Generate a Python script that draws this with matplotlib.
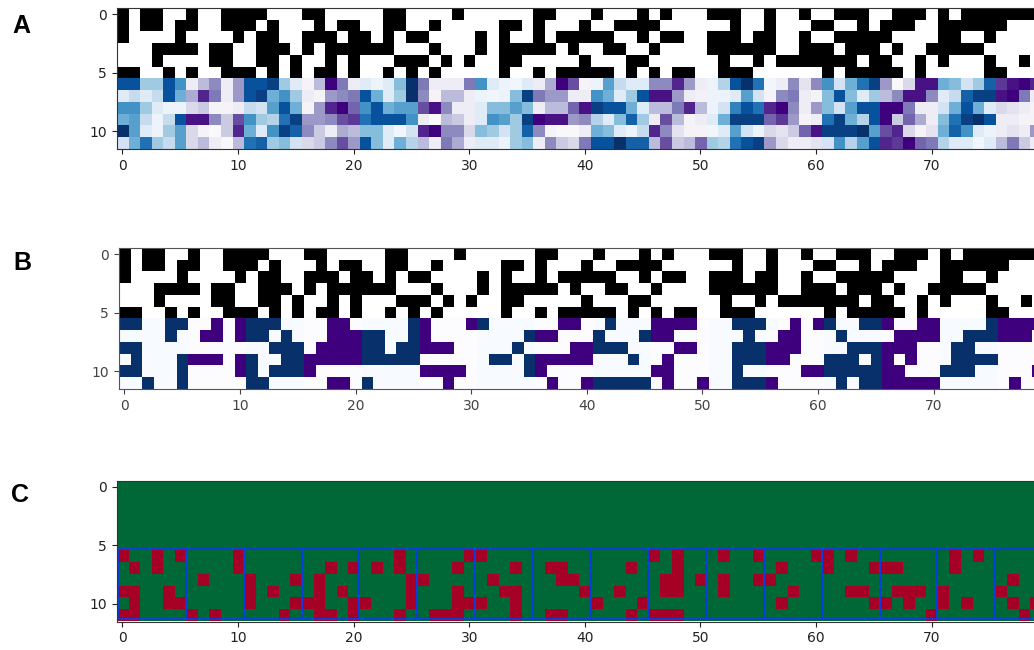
import numpy as np
import matplotlib
matplotlib.use("Agg")
import matplotlib.pyplot as plt
from matplotlib.colors import LinearSegmentedColormap, ListedColormap
from matplotlib.patches import Rectangle

# --- data -------------------------------------------------------------
binary_rows = [
    "101100100111100011000001100" "00100000011000100010100011" "100100100111" "00111" "0" "1" "0" "1111111",
    "101101100111010001011001100" "10000011010001001111000000" "1" "00" "1" "000" "11" "00" "1" "0" "111" "00" "111111" "000",
    "100001000010110011101101011" "00001" "0" "1" "00" "1" "0" "11111" "00" "1" "0" "11" "00" "11" "1" "0" "11" "00" "1" "00" "11111" "0000" "11" "00" "1" "0000",
    "000111101100111010111111000" "1" "000" "1" "0" "11111" "0" "1" "00" "11" "00" "1" "0000" "11" "1111" "00" "111" "0" "111" "0" "1" "00" "11111" "00000",
    "000100001100110100101000111" "0" "1" "0" "1" "00" "11" "00000" "1" "000" "11" "000000" "1" "00" "1" "0" "1111111" "0" "11" "00" "1" "0" "1" "000" "1" "00" "1" "0",
    "110010100111010101101001010" "1" "00000" "1" "00" "1" "0" "11111" "0" "1" "0" "1" "0" "11" "00" "1" "11" "000000" "1" "0" "11111" "0" "1" "00000" "11" "000",
]

# shades in eighths: negative = blue side, positive = purple side
shade_rows = [
    [-7,-7,-3,-3,-7,-5,1,3,4.5,1,4,-7,-7,-7.5,-3,-1,0.5,3,8,5,1,-1,-0.5,-1,-3.5,-8,5,
     1,1,1,5,-5,-1,-0.5,-0.3,-1,1,3.5,8,6,0.5,-0.5,-4.5,-2,-1,-1,4.5,4.5,7,4,1,-0.5,-2.5,-7,
     -8,-6,-0.3,1,4.5,1.5,4.5,-5,-1.5,-4,-6,-7.5,4,0.3,2,7.5,7.5,-4,-3.5,-1.5,-3,-6.5,6.5,7.5,8,7],
    [-1,-2,-1,-2,-7,-4,3.5,7,5,1,4,-7,-7.5,-4,-5,-3,1,0.5,4,4.5,5,-7,-4,-1,-3,-8,4.5,
     0.5,3,3,1,-0.5,-0.3,-0.5,-3.5,-7.5,5,4,4,1,1,-5,-4,-1,-3,-7,7.5,7.5,4,1,0.7,-0.5,-0.5,-1,
     -4.5,-1.5,0.5,4.5,5,1,0.5,-3.5,-7,-3.5,-1,-3,3,4.5,7.5,7.5,4.5,-1,-2,-6.5,-7.5,-7.5,7.5,8,5,1],
    [-5,-5,-3,-1,-0.5,-0.5,2,2.5,0.5,0.5,1,-2,-1.5,-4.5,-7,-4,0.5,4,7,8,5.5,-5,-7,-4,-4.5,-4.5,6,
     7.5,4.5,1,1,-1,-3.5,-3.5,-4.5,-3.5,1,3,3,5.5,7.5,-7.5,-7,-7,-4,-1,3,3,5,7,3,-0.5,-1.5,-5.5,
     -7,-6,7,8,4.5,1,4,-3.5,-1.5,-4.5,-7,-7,8,8,5,1,1,-1.5,-4,-7,-4,-1,2,1.5,1,0.5],
    [-4,-4.5,-2,-0.5,-2,-7,7.5,7.5,4.5,2.5,6,-5,-3,-2.5,-6,-7.5,4,4,4.5,6,6.5,-6,-7,-7,-7,-5,1,
     0.2,3,2.5,1,-1,-5,-4.5,-3,-7.5,8,7.5,7.5,4,4.5,-2.5,-1,-3.5,-6.5,-3,1,6,3,0.5,1,-1,-4,-7.5,
     -7.5,-7.5,5.5,6.5,4,0.5,1,-6,-7.5,-4,-2.5,-7,8,2.5,5.5,3.5,1,-3.5,-6,-7.5,-8,-7,1,1,0.5,0.5],
    [-8,-4.5,-1,-0.5,-3,-4.5,2,0.5,0.2,2.5,7,-4,-1,-5,-7.5,-6.5,4.5,2.5,1,3.5,3,-3.5,-3.5,-1,-0.3,-1.5,7,
     8,4.5,4.5,2,-3.5,-3,-1.5,-3,-6.5,4.5,0.5,0.3,0.3,1,-4,-3.5,-1,-0.5,-2,7,4.5,1.5,0.5,0.5,-0.3,-1,-4.5,
     -1.5,-0.5,2,1.5,2.5,5.5,7.5,-7.5,-7.5,-7.5,-8,-4.5,6,7,2,0.5,1.5,-4,-6.5,-5,-1,-0.5,1,1.5,1,4],
    [-1.5,-4,-6,-3,-2,-4.5,2,3,1,0.3,3,-6,-6.5,-3,-3.5,-1.5,2,2.5,4.5,6,4,-7,-3.5,-1,-4,-2.5,3,
     1,5,3.5,1,-1,-1,-0.5,-3,-3.5,1,4.5,2.5,2,5,-7,-7,-8,-6.5,-6.5,3,6,2.5,3,5.5,-3,-2.5,-6,
     -7,-7.5,4,2,1,1,1.5,-1.5,-5,-2.5,-4.5,-7,7,6.5,8,5.5,5,-2.5,-1,-1,-0.3,-1,3,5,2.5,1],
]

blue_cols = [
    [0,1,4,5,11,12,13,25,31,42,53,54,55,61,64,65,75],
    [4,11,12,14,21,22,25,35,41,45,54,62,73,74,75],
    [0,1,13,14,15,21,22,24,25,34,41,42,43,53,54,55,63,64,65,72,73],
    [1,5,11,14,15,21,22,23,24,25,32,33,35,44,53,54,55,61,62,63,65,72,73,74,75],
    [0,1,5,11,13,14,15,35,53,61,62,63,64,65,71,72,73],
    [2,5,11,12,21,41,42,43,44,45,53,54,55,62,64,65],
]
purple_cols = [
    [8,10,18,19,26,30,38,39,46,47,48,49,58,60,66,69,70,76,77,78,79],
    [7,8,10,18,19,20,26,36,37,46,47,57,58,67,68,69,70,76,77,78],
    [17,18,19,20,26,27,28,39,40,48,49,56,57,58,66,67,68],
    [6,7,8,10,16,17,18,19,20,36,37,38,39,40,47,56,57,66,68],
    [10,16,26,27,28,29,36,46,47,59,60,66,67,79],
    [18,19,28,37,40,47,50,56,66,67,68,69,70,77],
]
red_cols = [
    [0,3,5,10,24,30,31,46,48,52,55,60,61,63,72,74],
    [1,3,10,18,20,22,24,29,34,37,38,44,48,57,61,65,66,67,72],
    [7,11,15,17,25,26,32,38,39,47,48,50,52,55,56,77],
    [0,1,4,11,13,17,19,25,29,33,34,40,43,47,48,52,58,63,64,67,68,69,71,76],
    [1,4,5,11,15,16,17,20,21,25,29,30,31,34,41,45,57,65,66,68,71,73,77,79],
    [0,1,6,8,14,17,18,20,24,27,28,29,34,37,38,44,46,47,48,70,78],
]
tick_x = [0, 10, 20, 30, 40, 50, 60, 70]
tick_y = [0, 5, 10]
panel_labels = ["A", "B", "C"]
block_edges = list(range(5, 80, 5))

# --- matrices ----------------------------------------------------------
top = np.array([[int(ch) for ch in r] for r in binary_rows], dtype=float)
shades = np.array(shade_rows, dtype=float)
thresholded = np.sign(shades) * 0.02
for r in range(6):
    thresholded[r, blue_cols[r]] = -8
    thresholded[r, purple_cols[r]] = 8
green_red = np.zeros((12, 80))
for r in range(6):
    green_red[r + 6, red_cols[r]] = 1

# --- colours -----------------------------------------------------------
blue_purple = LinearSegmentedColormap.from_list(
    "blue_purple",
    np.vstack([plt.get_cmap("Blues_r")(np.linspace(0, 1, 128)),
               plt.get_cmap("Purples")(np.linspace(0, 1, 128))]), N=256)
black_white = ListedColormap(["#ffffff", "#000000"])
rdgn = ListedColormap(["#006837", "#a50026"])

W, H = 1034, 650
fig = plt.figure(figsize=(W / 100, H / 100), dpi=100, facecolor="white")
plt.rcParams["font.size"] = 10

def make_axes(left, top_px, bottom_px, ink="#222222", spine="#333333"):
    ax = fig.add_axes([left / W, 1 - bottom_px / H, 80 * 11.56 / W, (bottom_px - top_px) / H])
    ax.set_xlim(-0.5, 79.5)
    ax.set_ylim(11.5, -0.5)
    ax.set_xticks(tick_x)
    ax.set_yticks(tick_y)
    ax.tick_params(labelsize=10, colors=ink)
    for s in ax.spines.values():
        s.set_color(spine)
    return ax

def draw_two_part(ax, lower):
    ext = (-0.5, 79.5, 11.5, -0.5)
    kw = dict(aspect="auto", interpolation="nearest", extent=ext)
    ax.imshow(np.ma.masked_where(np.arange(12)[:, None].repeat(80, 1) >= 6,
                                 np.vstack([top, np.zeros((6, 80))])),
              cmap=black_white, vmin=0, vmax=1, **kw)
    ax.imshow(np.ma.masked_where(np.arange(12)[:, None].repeat(80, 1) < 6,
                                 np.vstack([np.zeros((6, 80)), lower])),
              cmap=blue_purple, vmin=-8, vmax=8, **kw)

ax_a = make_axes(116.7, 8.4, 149)
draw_two_part(ax_a, shades)

ax_b = make_axes(118.7, 248.4, 389, ink="#444444", spine="#555555")
draw_two_part(ax_b, thresholded)

ax_c = make_axes(116.7, 481, 621.5)
ax_c.imshow(green_red, cmap=rdgn, vmin=0, vmax=1, aspect="auto",
            interpolation="nearest", extent=(-0.5, 79.5, 11.5, -0.5))
left = -0.42
for edge in block_edges:
    ax_c.add_patch(Rectangle((left, 5.27), edge + 0.5 - left, 6.03, fill=False,
                             edgecolor="#0a3ee0", linewidth=1.3))
    left = edge + 0.5
ax_c.add_patch(Rectangle((left, 5.27), 5, 6.03, fill=False,
                         edgecolor="#0a3ee0", linewidth=1.3))

for lab, x, y in zip(panel_labels, [12, 13, 11], [33, 270, 502]):
    fig.text(x / W, 1 - y / H, lab, fontsize=18, fontweight="bold",
             family="Liberation Sans", ha="left", va="baseline", color="black")

fig.savefig("out.png", dpi=100)
